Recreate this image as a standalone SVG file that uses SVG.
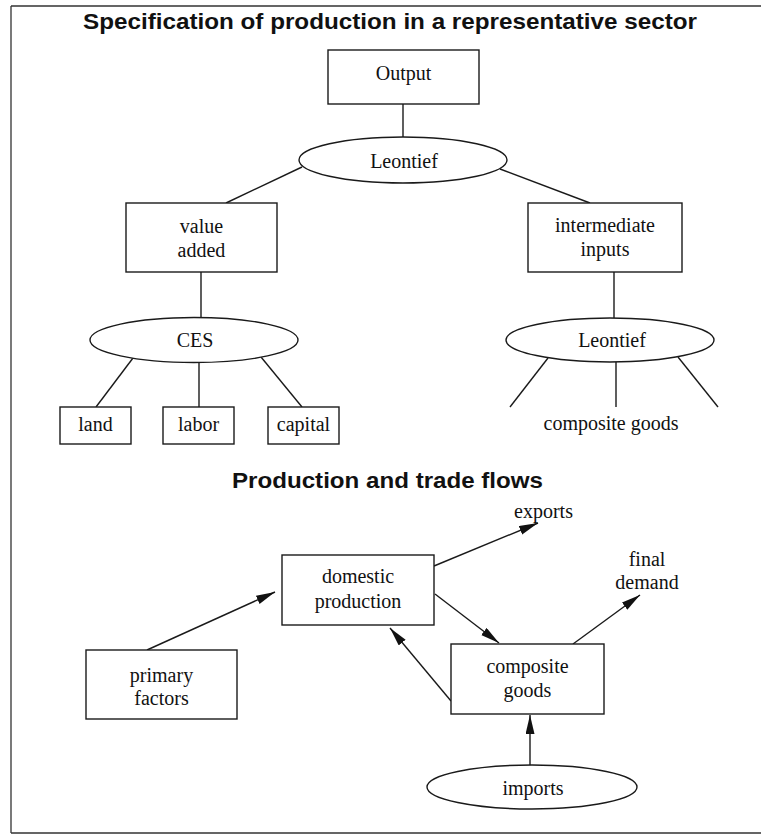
<svg xmlns="http://www.w3.org/2000/svg" width="761" height="835" viewBox="0 0 761 835">
<style>
  .box { fill: #ffffff; stroke: #1a1a1a; stroke-width: 1.4; }
  .ell { fill: #ffffff; stroke: #1a1a1a; stroke-width: 1.4; }
  .lbl { font-family: "Liberation Serif", "Times New Roman", serif; font-size: 20px; fill: #111; text-anchor: middle; }
  .ttl { font-family: "Liberation Sans", Arial, sans-serif; font-weight: bold; font-size: 22px; fill: #111; }
  .ln { stroke: #1a1a1a; stroke-width: 1.4; fill: none; }
  .arr { stroke: #1a1a1a; stroke-width: 1.4; fill: none; marker-end: url(#ah); }
  .frame { stroke: #333; stroke-width: 1.3; fill: none; }
</style>
<defs>
  <marker id="ah" markerUnits="userSpaceOnUse" markerWidth="20" markerHeight="10" refX="19" refY="4.5" orient="auto">
    <path d="M0,0 L19,4.5 L0,9 z" fill="#111"/>
  </marker>
</defs>
<rect x="0" y="0" width="761" height="835" fill="#ffffff"/>
<g id="frame">
  <path class="frame" d="M11,6 L761,6 M11,6 L11,833 M11,833 L761,833"/>
</g>
<g id="titles">
  <text class="ttl" x="83" y="29" textLength="614" lengthAdjust="spacingAndGlyphs">Specification of production in a representative sector</text>
  <text class="ttl" x="232" y="488" textLength="311" lengthAdjust="spacingAndGlyphs">Production and trade flows</text>
</g>
<g id="connectors">
  <line class="ln" x1="403" y1="104" x2="403" y2="137"/>
  <line class="ln" x1="302" y1="167" x2="226" y2="203"/>
  <line class="ln" x1="500" y1="169" x2="590" y2="203"/>
  <line class="ln" x1="201" y1="272" x2="201" y2="318"/>
  <line class="ln" x1="614" y1="272" x2="614" y2="318"/>
  <line class="ln" x1="133" y1="358" x2="96" y2="407"/>
  <line class="ln" x1="199" y1="362" x2="199" y2="407"/>
  <line class="ln" x1="261" y1="357" x2="302" y2="407"/>
  <line class="ln" x1="548" y1="358" x2="510" y2="407"/>
  <line class="ln" x1="616" y1="362" x2="616" y2="407"/>
  <line class="ln" x1="678" y1="357" x2="718" y2="407"/>
  <line class="arr" x1="147" y1="650" x2="275" y2="592"/>
  <line class="arr" x1="434" y1="566" x2="538" y2="523"/>
  <line class="arr" x1="435" y1="594" x2="499" y2="643"/>
  <line class="arr" x1="451" y1="701" x2="390" y2="628"/>
  <line class="arr" x1="573" y1="644" x2="640" y2="595"/>
  <line class="arr" x1="530" y1="765" x2="530" y2="715"/>
</g>
<g id="output">
  <rect class="box" x="328" y="50" width="151" height="54"/>
  <text class="lbl" x="403.5" y="80">Output</text>
</g>
<g id="leontief-top">
  <ellipse class="ell" cx="403" cy="160" rx="104" ry="23"/>
  <text class="lbl" x="404" y="168">Leontief</text>
</g>
<g id="value-added">
  <rect class="box" x="126" y="203" width="151" height="69"/>
  <text class="lbl" x="201.5" y="233">value</text>
  <text class="lbl" x="201.5" y="257">added</text>
</g>
<g id="intermediate-inputs">
  <rect class="box" x="528" y="203" width="154" height="69"/>
  <text class="lbl" x="605" y="232">intermediate</text>
  <text class="lbl" x="605" y="256">inputs</text>
</g>
<g id="ces">
  <ellipse class="ell" cx="194" cy="340" rx="104" ry="22.5"/>
  <text class="lbl" x="195" y="347">CES</text>
</g>
<g id="leontief-inputs">
  <ellipse class="ell" cx="610" cy="340" rx="104" ry="22"/>
  <text class="lbl" x="612" y="347">Leontief</text>
</g>
<g id="land">
  <rect class="box" x="60" y="407" width="71" height="37"/>
  <text class="lbl" x="95.5" y="431">land</text>
</g>
<g id="labor">
  <rect class="box" x="163" y="407" width="71" height="37"/>
  <text class="lbl" x="198.5" y="431">labor</text>
</g>
<g id="capital">
  <rect class="box" x="268" y="407" width="71" height="37"/>
  <text class="lbl" x="303.5" y="431">capital</text>
</g>
<g id="composite-goods-label">
  <text class="lbl" x="611" y="430">composite goods</text>
</g>
<g id="exports">
  <text class="lbl" x="543.5" y="518">exports</text>
</g>
<g id="final-demand">
  <text class="lbl" x="647" y="566">final</text>
  <text class="lbl" x="647" y="589">demand</text>
</g>
<g id="domestic-production">
  <rect class="box" x="282" y="555" width="152" height="70"/>
  <text class="lbl" x="358" y="583">domestic</text>
  <text class="lbl" x="358" y="608">production</text>
</g>
<g id="primary-factors">
  <rect class="box" x="86" y="650" width="151" height="69"/>
  <text class="lbl" x="161.5" y="682">primary</text>
  <text class="lbl" x="161.5" y="705">factors</text>
</g>
<g id="composite-goods">
  <rect class="box" x="451" y="644" width="153" height="70"/>
  <text class="lbl" x="527.5" y="673">composite</text>
  <text class="lbl" x="527.5" y="697">goods</text>
</g>
<g id="imports">
  <ellipse class="ell" cx="532" cy="787" rx="105" ry="22"/>
  <text class="lbl" x="533" y="795">imports</text>
</g>
</svg>
